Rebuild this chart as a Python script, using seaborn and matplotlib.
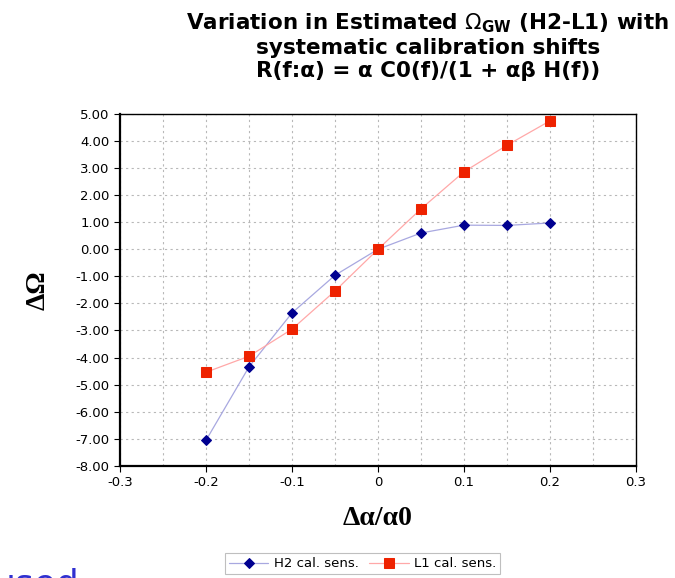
import matplotlib
matplotlib.use("Agg")
import matplotlib.pyplot as plt
import seaborn as sns
from matplotlib.ticker import MultipleLocator, FormatStrFormatter, FuncFormatter

shift = [-0.2, -0.15, -0.1, -0.05, 0.0, 0.05, 0.1, 0.15, 0.2]
h2_vals = [-7.05, -4.34, -2.35, -0.96, 0.0, 0.60, 0.89, 0.88, 0.97]
l1_vals = [-4.54, -3.95, -2.95, -1.54, 0.0, 1.49, 2.86, 3.84, 4.74]

title_lines = ['Variation in Estimated $\\Omega_{\\mathregular{GW}}$ (H2-L1) with',
               'systematic calibration shifts',
               'R(f:α) = α C0(f)/(1 + αβ H(f))']

sns.set_style("white")
plt.rcParams['font.family'] = ['DejaVu Sans']
plt.rcParams['text.color'] = 'black'
plt.rcParams['axes.labelcolor'] = 'black'

fig = plt.figure(figsize=(6.75, 5.78), dpi=100)
ax = fig.add_axes([0.178, 0.194, 0.764, 0.609])

sns.lineplot(x=shift, y=h2_vals, ax=ax, color='#a8a8e0', lw=0.9, marker='D',
             markersize=5, markerfacecolor='#000090', markeredgecolor='#000090',
             label='H2 cal. sens.')
sns.lineplot(x=shift, y=l1_vals, ax=ax, color='#ffa8a8', lw=0.9, marker='s',
             markersize=6.5, markerfacecolor='#ee2200', markeredgecolor='#ee2200',
             label='L1 cal. sens.')

ax.set_xlim(-0.3, 0.3)
ax.set_ylim(-8, 5)
ax.xaxis.set_major_locator(MultipleLocator(0.1))
ax.xaxis.set_minor_locator(MultipleLocator(0.05))
ax.yaxis.set_major_locator(MultipleLocator(1))
ax.yaxis.set_major_formatter(FormatStrFormatter('%.2f'))
ax.xaxis.set_major_formatter(FuncFormatter(lambda v, p: '0' if abs(v) < 1e-9 else f'{v:.1f}'))

ax.grid(True, which='both', axis='x', color='#b8b8b8', ls=(0, (2, 3)), lw=0.8)
ax.grid(True, which='major', axis='y', color='#b8b8b8', ls=(0, (2, 3)), lw=0.8)
ax.tick_params(axis='both', which='major', labelsize=9.5, length=4, width=0.8,
               direction='out', left=True, bottom=True, colors='black')
ax.tick_params(axis='x', which='minor', length=0)
for side in ['left', 'bottom']:
    ax.spines[side].set_linewidth(1.6)
for side in ['top', 'right']:
    ax.spines[side].set_linewidth(1.0)
for s in ax.spines.values():
    s.set_color('black')

ax.set_xlabel('Δα/α0', fontsize=20, fontweight='bold', family='Liberation Serif', labelpad=12)
ax.set_ylabel('ΔΩ', fontsize=20, fontweight='bold', family='Liberation Serif', labelpad=18)

for line, yb in zip(title_lines, [0.949, 0.907, 0.866]):
    fig.text(0.634, yb, line, ha='center', va='baseline', fontsize=15.5,
             fontweight='bold')

leg = ax.legend(loc='upper center', bbox_to_anchor=(0.47, -0.23), ncol=2,
                fontsize=9.5, frameon=True, fancybox=False, borderpad=0.3,
                handlelength=3.0, columnspacing=0.8, handletextpad=0.4)
leg.get_frame().set_edgecolor('#b0b0b0')
leg.get_frame().set_linewidth(0.8)

fig.text(-0.01, 0.018, 'used', color='#3030d0', fontsize=26, ha='left', va='top')

fig.savefig('out.png', dpi=100)
